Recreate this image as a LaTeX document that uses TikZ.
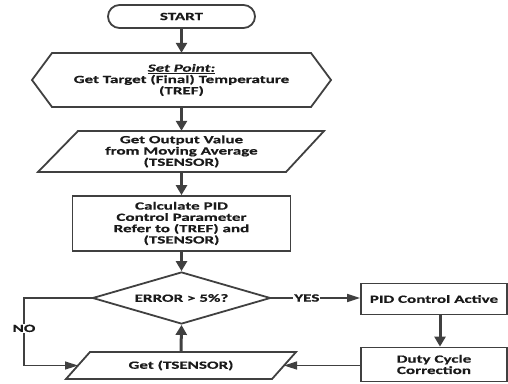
\documentclass[tikz,border=0pt]{standalone}
\usepackage{fontspec}
\setmainfont{Carlito}[FakeStretch=1.55, BoldFeatures={FakeBold=0.6}, BoldItalicFeatures={FakeBold=0.6}]
\usetikzlibrary{arrows.meta,shapes.geometric,calc}
\definecolor{ln}{HTML}{404040}
\definecolor{tx}{HTML}{1A1A1A}
\begin{document}
\begin{tikzpicture}[x=1pt,y=1pt,
  every node/.style={font=\bfseries\fontsize{11}{11.3}\selectfont, text=tx, align=center, inner sep=0pt},
  outl/.style={draw=ln, line width=1.8pt, line join=miter},
  thk/.style={draw=ln, line width=3pt, -{Triangle[length=10pt,width=11pt]}},
  thn/.style={draw=ln, line width=1.5pt, -{Triangle[length=13pt,width=8pt]}},
  lbl/.style={fill=white, inner sep=1pt}
]
\path[use as bounding box] (0,0) rectangle (508,-383);

% START terminal
\node[outl, rounded corners=11.5pt, minimum width=147pt, minimum height=23pt] (start) at (181.5,-16.5) {START};

% Set point hexagon
\draw[outl] (32,-80) -- (52,-53) -- (311,-53) -- (331,-80) -- (311,-107) -- (52,-107) -- cycle;
\node[minimum width=299pt, minimum height=54pt] (hex) at (181.5,-80) {\underline{\textit{Set Point:}}\\Get Target (Final) Temperature\\(TREF)};

% Output value parallelogram
\draw[outl] (78,-131) -- (324,-131) -- (286,-172) -- (38,-172) -- cycle;
\node[minimum width=286pt, minimum height=41pt] (outv) at (181.5,-151.5) {Get Output Value\\from Moving Average\\(TSENSOR)};

% Calculate rectangle
\node[outl, minimum width=218pt, minimum height=55pt] (calc) at (181.5,-223.5) {Calculate PID\\Control Parameter\\Refer to (TREF) and\\(TSENSOR)};

% Decision
\node[outl, diamond, aspect=3.42, minimum width=178pt, minimum height=52pt] (dec) at (181.5,-298) {ERROR \textgreater{} 5\%?};

% PID control active
\node[outl, minimum width=146pt, minimum height=31pt] (pid) at (434,-299) {PID Control Active};

% Duty cycle correction
\node[outl, minimum width=146pt, minimum height=34pt] (duty) at (434,-364.5) {Duty Cycle\\Correction};

% Get TSENSOR parallelogram
\draw[outl] (90,-352) -- (296,-352) -- (272,-379) -- (66,-379) -- cycle;
\node[minimum width=230pt, minimum height=27pt] (get) at (181,-365.5) {Get (TSENSOR)};
\coordinate (getL) at (78,-365.5);
\coordinate (getR) at (284,-365.5);
\coordinate (nocorner1) at (24,-298);
\coordinate (nocorner2) at (24,-365.5);

% Connectors
\draw[thk] (start.south) -- (hex.north);
\draw[thk] (hex.south) -- (outv.north);
\draw[thk] (outv.south) -- (calc.north);
\draw[thk] (calc.south) -- (dec.north);
\draw[thk] (get.north) -- (dec.south);
\draw[thn] (dec.east) -- node[lbl, pos=0.4] {YES} (dec.east -| pid.west);
\draw[thk] ($(pid.south)+(6,0)$) -- ($(duty.north)+(6,0)$);
\draw[thn] (duty.west |- getR) -- (getR);
\draw[thn] (dec.west) -- (nocorner1) -- node[lbl, pos=0.45] {NO} (nocorner2) -- (getL);
\end{tikzpicture}
\end{document}
